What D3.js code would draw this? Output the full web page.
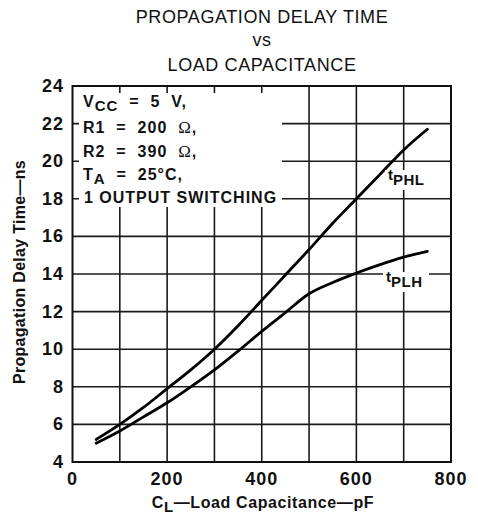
<!DOCTYPE html>
<html>
<head>
<meta charset="utf-8">
<script src="https://cdn.jsdelivr.net/npm/d3@7/dist/d3.min.js"></script>
<style>
  html, body { margin: 0; padding: 0; background: #fff; }
  svg { display: block; }
  text { font-family: "Liberation Sans", Arial, Helvetica, sans-serif; fill: #111; }
</style>
</head>
<body>
<svg id="chart" width="478" height="515"></svg>
<script>
// Load capacitance (pF) sample points
const loadCap = [50, 100, 150, 200, 250, 300, 350, 400, 450, 500, 550, 600, 650, 700, 750];
// High-to-low propagation delay (ns)
const tPHL = [5.2, 6.0, 6.9, 7.9, 8.9, 10.0, 11.25, 12.6, 13.95, 15.3, 16.7, 18.0, 19.3, 20.6, 21.7];
// Low-to-high propagation delay (ns)
const tPLH = [5.0, 5.65, 6.4, 7.15, 8.0, 8.9, 9.9, 10.95, 11.95, 12.95, 13.55, 14.05, 14.5, 14.9, 15.2];

const xTicks = [0, 200, 400, 600, 800];
const xGrid = [100, 200, 300, 400, 500, 600, 700];
const yTicks = [4, 6, 8, 10, 12, 14, 16, 18, 20, 22, 24];
const yGrid = [6, 8, 10, 12, 14, 16, 18, 20, 22];

const titleLines = ["PROPAGATION DELAY TIME", "vs", "LOAD CAPACITANCE"];

const NB = "\u00a0"; // non-breaking space keeps the wide spacing around "="

const svg = d3.select("#chart");
const L = 72.5, R = 451, T = 86, B = 462;
const x = d3.scaleLinear().domain([0, 800]).range([L, R]);
const y = d3.scaleLinear().domain([4, 24]).range([B, T]);

// Title
const titleY = [23, 46, 71];
svg.selectAll("text.title").data(titleLines).join("text")
  .attr("class", "title")
  .attr("x", 262).attr("y", (d, i) => titleY[i])
  .attr("text-anchor", "middle")
  .style("font-size", "18px")
  .style("letter-spacing", "0.6px")
  .text(d => d);

// Grid
const grid = svg.append("g").attr("stroke", "#1a1a1a").attr("stroke-width", 1.6);
grid.selectAll("line.v").data(xGrid).join("line")
  .attr("x1", d => x(d)).attr("x2", d => x(d))
  .attr("y1", T).attr("y2", B);
grid.selectAll("line.h").data(yGrid).join("line")
  .attr("x1", L).attr("x2", R)
  .attr("y1", d => y(d)).attr("y2", d => y(d));

// White panel behind the test conditions, leaving short tick stubs at the frame
svg.append("rect")
  .attr("x", L + 6.5).attr("y", T + 7)
  .attr("width", 282 - (L + 6.5)).attr("height", 207 - (T + 7))
  .attr("fill", "#fff");

// Frame
svg.append("rect")
  .attr("x", L).attr("y", T).attr("width", R - L).attr("height", B - T)
  .attr("fill", "none").attr("stroke", "#111").attr("stroke-width", 2);

// Curves
const line = d3.line().x(d => x(d[0])).y(d => y(d[1])).curve(d3.curveMonotoneX);
[tPHL, tPLH].forEach(series => {
  svg.append("path")
    .datum(loadCap.map((c, i) => [c, series[i]]))
    .attr("d", line)
    .attr("fill", "none")
    .attr("stroke", "#000")
    .attr("stroke-width", 2.8)
    .attr("stroke-linecap", "round");
});

// Curve labels with white backing
function curveLabel(px, py, sub) {
  const g = svg.append("g");
  g.append("rect").attr("x", px - 3).attr("y", py - 15).attr("width", 46).attr("height", 20).attr("fill", "#fff");
  const t = g.append("text").attr("x", px).attr("y", py)
    .style("font-size", "15px").style("font-weight", "bold");
  t.append("tspan").text("t").attr("dy", -5);
  t.append("tspan").text(sub).attr("dy", 5).style("letter-spacing", "0.5px");
}
curveLabel(388, 185, "PHL");
curveLabel(386, 287, "PLH");

// Y tick labels
svg.selectAll("text.ytick").data(yTicks).join("text")
  .attr("class", "ytick")
  .attr("x", 64).attr("y", d => y(d) + 6)
  .attr("text-anchor", "end")
  .style("font-size", "18px").style("font-weight", "bold").style("letter-spacing", "1px")
  .text(d => d);

// X tick labels
svg.selectAll("text.xtick").data(xTicks).join("text")
  .attr("class", "xtick")
  .attr("x", d => x(d)).attr("y", 485)
  .attr("text-anchor", "middle")
  .style("font-size", "18px").style("font-weight", "bold").style("letter-spacing", "1px")
  .text(d => d);

// X axis title
const xt = svg.append("text").attr("x", 263).attr("y", 508).attr("text-anchor", "middle")
  .style("font-size", "16px").style("font-weight", "bold").style("letter-spacing", "0.6px");
xt.append("tspan").text("C");
xt.append("tspan").text("L").attr("dy", 4).style("font-size", "15px");
xt.append("tspan").text("\u2014Load Capacitance\u2014pF").attr("dy", -4);

// Y axis title
svg.append("text")
  .attr("transform", "translate(25,272) rotate(-90)")
  .attr("text-anchor", "middle")
  .style("font-size", "16px").style("font-weight", "bold").style("letter-spacing", "0.3px")
  .text("Propagation Delay Time\u2014ns");

// Test conditions
const cond = svg.append("g").style("font-size", "16px").style("font-weight", "bold")
  .style("letter-spacing", "1px");
const c1 = cond.append("text").attr("x", 83).attr("y", 107);
c1.append("tspan").text("V");
c1.append("tspan").text("CC").attr("dy", 4).style("font-size", "15px");
c1.append("tspan").text(`${NB}${NB}=${NB}${NB}5${NB}${NB}V,`).attr("dy", -4);
const c2 = cond.append("text").attr("x", 83).attr("y", 133);
c2.append("tspan").text(`R1${NB}${NB}=${NB}${NB}200${NB}${NB}`);
c2.append("tspan").text("\u03a9").style("font-weight", "normal").style("font-size", "17px").style("font-family", "'Liberation Serif', serif");
c2.append("tspan").text(",");
const c3 = cond.append("text").attr("x", 83).attr("y", 157);
c3.append("tspan").text(`R2${NB}${NB}=${NB}${NB}390${NB}${NB}`);
c3.append("tspan").text("\u03a9").style("font-weight", "normal").style("font-size", "17px").style("font-family", "'Liberation Serif', serif");
c3.append("tspan").text(",");
const c4 = cond.append("text").attr("x", 83).attr("y", 180);
c4.append("tspan").text("T");
c4.append("tspan").text("A").attr("dy", 4).style("font-size", "15px");
c4.append("tspan").text(`${NB}${NB}=${NB}${NB}25\u00b0C,`).attr("dy", -4);
cond.append("text").attr("x", 84).attr("y", 203).text("1 OUTPUT SWITCHING");
</script>
</body>
</html>
